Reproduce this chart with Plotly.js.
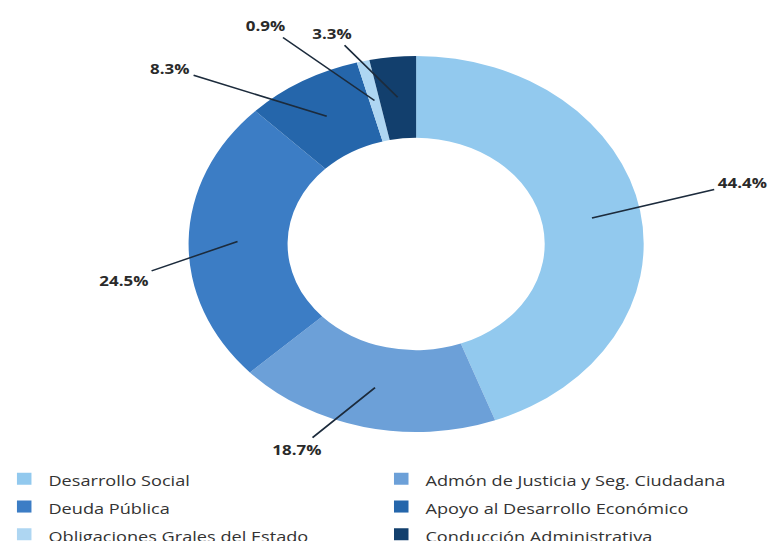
<!DOCTYPE html>
<html><head><meta charset="utf-8">
<script src="https://cdn.plot.ly/plotly-3.0.1.min.js"></script>
<style>
html,body{margin:0;padding:0;overflow:hidden;background:#fff;width:771px;height:541px}
#chart{width:637px;height:560px;transform:scaleX(1.2104);transform-origin:0 0}
</style></head><body><div id="chart"></div>
<script>
// ---- data ----
const categories = ['Desarrollo Social','Admón de Justicia y Seg. Ciudadana','Deuda Pública','Apoyo al Desarrollo Económico','Obligaciones Grales del Estado','Conducción Administrativa'];
const shares = [44.4, 18.7, 24.5, 8.3, 0.9, 3.3];
// ---- styles / positions ----
const colors = ['#92c9ee','#6ca0d8','#3c7dc5','#2566ab','#aed6f2','#123f6d'];
const labelDX = [124, -64, -94, -129, -90, -54];
const labelDY = [-35, 62, 39, -48, -75, -64];

const W = 637, H = 560, CX = 343.8, CY = 244, R = 188, HOLE = 0.565, ANCHOR_R = 0.785;

const total = shares.reduce((a, b) => a + b, 0);
let cum = 0;
const annotations = shares.map((v, i) => {
  const th = (cum + v / 2) / total * 2 * Math.PI;
  cum += v;
  const px = CX + Math.sin(th) * ANCHOR_R * R;
  const py = CY - Math.cos(th) * ANCHOR_R * R;
  return {
    xref: 'paper', yref: 'paper', x: px / W, y: 1 - py / H,
    text: v.toFixed(1) + '%', showarrow: true, arrowhead: 0, arrowwidth: 1.5,
    arrowcolor: '#1c2b3c', ax: labelDX[i], ay: labelDY[i], standoff: 0, borderpad: 2,
    font: {family: 'Open Sans, sans-serif', size: 14, color: '#2a2a2a', weight: 700}
  };
});

const trace = {
  type: 'pie', labels: categories.map(c => '<span style="font-size:15px">' + c + '</span>'),
  values: shares, sort: false, direction: 'clockwise', rotation: 0, hole: HOLE,
  textinfo: 'none', hoverinfo: 'skip',
  marker: {colors: colors, line: {width: 0}},
  domain: {x: [(CX - R) / W, (CX + R) / W], y: [1 - (CY + R) / H, 1 - (CY - R) / H]}
};

const layout = {
  width: W, height: H, margin: {l: 0, r: 0, t: 0, b: 0},
  paper_bgcolor: '#fff', showlegend: true,
  legend: {orientation: 'h', x: 0, xanchor: 'left', y: 1 - 460 / H, yanchor: 'top',
    entrywidth: 0.489, entrywidthmode: 'fraction', traceorder: 'normal',
    font: {family: 'Open Sans, sans-serif', size: 19, color: '#333'}},
  annotations: annotations
};
Plotly.newPlot('chart', [trace], layout, {displayModeBar: false, staticPlot: true});
</script></body></html>
